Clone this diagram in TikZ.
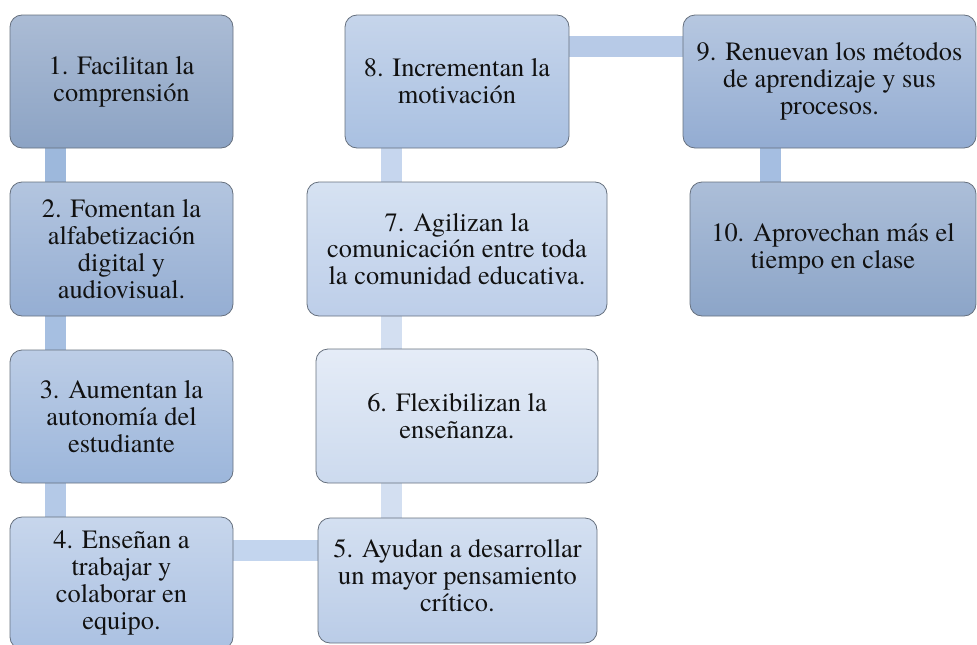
\documentclass[tikz,border=0pt]{standalone}
\usepackage{fontspec}
\setmainfont{texgyretermes-regular.otf}
\newfontfamily\tnr{texgyretermes-regular.otf}
\usetikzlibrary{backgrounds}
\definecolor{bordercol}{HTML}{66707E}
\definecolor{txt}{HTML}{111111}
\definecolor{ka}{HTML}{9DB8DC}
\definecolor{kb}{HTML}{A6BFE1}
\definecolor{kc}{HTML}{B4C9E7}
\definecolor{kd}{HTML}{C3D5EE}
\definecolor{ke}{HTML}{D3DFF1}
\definecolor{kf}{HTML}{D3DFF1}
\definecolor{kg}{HTML}{C6D6EE}
\definecolor{kh}{HTML}{B7CAE7}
\definecolor{ki}{HTML}{A5BEE1}
\tikzset{
  txtstyle/.style={align=center, inner sep=2pt, text=txt, font=\tnr\fontsize{26.4}{26.8}\selectfont},
  box/.style={draw=bordercol, line width=0.8pt, rounded corners=12pt, txtstyle},
  conn/.style={line width=21pt, draw=#1, line cap=butt}
}
\begin{document}
\begin{tikzpicture}[x=1pt, y=-1pt]
\useasboundingbox (0,0) rectangle (977,645);
\clip (0,0) rectangle (977,645);

\node[box, minimum width=223pt, minimum height=133pt, top color={rgb,255:red,171;green,188;blue,213}, bottom color={rgb,255:red,140;green,163;blue,196}] (b1) at (121.5,81.5) {1. Facilitan la\\comprensión};
\node[box, minimum width=223pt, minimum height=134pt, top color={rgb,255:red,179;green,197;blue,223}, bottom color={rgb,255:red,149;green,174;blue,211}] (b2) at (121.5,249) {2. Fomentan la\\alfabetización\\digital y\\audiovisual.};
\node[box, minimum width=223pt, minimum height=133pt, top color={rgb,255:red,188;green,205;blue,230}, bottom color={rgb,255:red,156;green,182;blue,219}] (b3) at (121.5,416.5) {3. Aumentan la\\autonomía del\\estudiante};
\node[box, minimum width=223pt, minimum height=132pt, top color={rgb,255:red,199;green,214;blue,236}, bottom color={rgb,255:red,171;green,193;blue,226}] (b4) at (121.5,583) {4. Enseñan a\\trabajar y\\colaborar en\\equipo.};
\node[box, minimum width=279pt, minimum height=125pt, top color={rgb,255:red,212;green,224;blue,241}, bottom color={rgb,255:red,186;green,204;blue,231}] (b5) at (457.5,580.5) {};
\node[txtstyle] (t5) at ([yshift=5pt]b5.center) {5. Ayudan a desarrollar\\un mayor pensamiento\\crítico.};
\node[box, minimum width=282pt, minimum height=134pt, top color={rgb,255:red,229;green,236;blue,247}, bottom color={rgb,255:red,204;green,218;blue,238}] (b6) at (457,416) {6. Flexibilizan la\\enseñanza.};
\node[box, minimum width=300pt, minimum height=134pt, top color={rgb,255:red,214;green,226;blue,242}, bottom color={rgb,255:red,189;green,206;blue,233}] (b7) at (457,249) {7. Agilizan la\\comunicación entre toda\\la comunidad educativa.};
\node[box, minimum width=224pt, minimum height=133pt, top color={rgb,255:red,198;green,213;blue,235}, bottom color={rgb,255:red,169;green,192;blue,225}] (b8) at (457,81.5) {8. Incrementan la\\motivación};
\node[box, minimum width=293pt, minimum height=133pt, top color={rgb,255:red,182;green,199;blue,224}, bottom color={rgb,255:red,147;green,172;blue,210}] (b9) at (829.5,81.5) {9. Renuevan los métodos\\de aprendizaje y sus\\procesos.};
\node[box, minimum width=286pt, minimum height=134pt, top color={rgb,255:red,172;green,190;blue,216}, bottom color={rgb,255:red,140;green,165;blue,200}] (b10) at (833,249) {10. Aprovechan más el\\tiempo en clase};

\path (b1.south west) ++(45.5,0) coordinate (k12);
\path (b2.south west) ++(45.5,0) coordinate (k23);
\path (b3.south west) ++(45.5,0) coordinate (k34);
\path (b4.north east) ++(0,33.5) coordinate (k45);
\path (b5.north west) ++(74,0) coordinate (k56);
\path (b6.north west) ++(76,0) coordinate (k67);
\path (b8.south west) ++(47,0) coordinate (k78);
\path (b8.north east) ++(0,32) coordinate (k89);
\path (b9.south west) ++(87.5,0) coordinate (k910);

\begin{scope}[on background layer]
\draw[conn=ka] (k12) -- (k12 |- b2.north);
\draw[conn=kb] (k23) -- (k23 |- b3.north);
\draw[conn=kc] (k34) -- (k34 |- b4.north);
\draw[conn=kd] (k45) -- (k45 -| b5.west);
\draw[conn=ke] (k56) -- (k56 |- b6.south);
\draw[conn=kf] (k67) -- (k67 |- b7.south);
\draw[conn=kg] (k78) -- (k78 |- b7.north);
\draw[conn=kh] (k89) -- (k89 -| b9.west);
\draw[conn=ki] (k910) -- (k910 |- b10.north);
\end{scope}
\end{tikzpicture}
\end{document}
